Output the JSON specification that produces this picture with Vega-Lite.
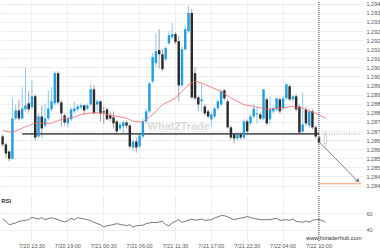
{
  "$schema": "https://vega.github.io/schema/vega-lite/v6.json",
  "padding": 0,
  "background": "white",
  "spacing": 2,
  "config": {
    "view": {"stroke": null},
    "font": "Liberation Sans",
    "axis": {"labelFont": "Liberation Sans", "labelFontSize": 5.5, "labelColor": "#555555", "gridColor": "#eeeeee", "gridWidth": 1, "ticks": false, "domain": false}
  },
  "datasets": {
    "candles": [
      {"t":"7/20 09:00","o":1.28670,"c":1.28626,"h":1.28681,"l":1.28615},
      {"t":"7/20 09:30","o":1.28626,"c":1.28576,"h":1.28637,"l":1.28554},
      {"t":"7/20 10:00","o":1.28587,"c":1.28548,"h":1.28593,"l":1.28532},
      {"t":"7/20 10:30","o":1.28548,"c":1.28769,"h":1.28880,"l":1.28543},
      {"t":"7/20 11:00","o":1.28769,"c":1.28813,"h":1.28846,"l":1.28758},
      {"t":"7/20 11:30","o":1.28813,"c":1.28769,"h":1.28869,"l":1.28758},
      {"t":"7/20 12:00","o":1.28769,"c":1.28824,"h":1.28940,"l":1.28764},
      {"t":"7/20 12:30","o":1.28819,"c":1.28841,"h":1.29045,"l":1.28808},
      {"t":"7/20 13:00","o":1.28852,"c":1.28819,"h":1.28918,"l":1.28802},
      {"t":"7/20 13:30","o":1.28830,"c":1.28891,"h":1.28979,"l":1.28819},
      {"t":"7/20 14:00","o":1.28891,"c":1.28664,"h":1.28902,"l":1.28648},
      {"t":"7/20 14:30","o":1.28670,"c":1.28780,"h":1.28797,"l":1.28659},
      {"t":"7/20 15:00","o":1.28780,"c":1.28714,"h":1.28841,"l":1.28664},
      {"t":"7/20 15:30","o":1.28730,"c":1.28769,"h":1.28852,"l":1.28720},
      {"t":"7/20 16:00","o":1.28769,"c":1.28824,"h":1.28924,"l":1.28758},
      {"t":"7/20 16:30","o":1.28819,"c":1.28863,"h":1.28940,"l":1.28808},
      {"t":"7/20 17:00","o":1.28852,"c":1.29018,"h":1.29029,"l":1.28841},
      {"t":"7/20 17:30","o":1.29018,"c":1.28857,"h":1.29029,"l":1.28846},
      {"t":"7/20 18:00","o":1.28857,"c":1.28797,"h":1.28869,"l":1.28725},
      {"t":"7/20 18:30","o":1.28786,"c":1.28747,"h":1.28797,"l":1.28730},
      {"t":"7/20 19:00","o":1.28742,"c":1.28769,"h":1.28780,"l":1.28720},
      {"t":"7/20 19:30","o":1.28764,"c":1.28819,"h":1.28830,"l":1.28753},
      {"t":"7/20 20:00","o":1.28808,"c":1.28824,"h":1.28863,"l":1.28797},
      {"t":"7/20 20:30","o":1.28819,"c":1.28835,"h":1.28846,"l":1.28808},
      {"t":"7/20 21:00","o":1.28830,"c":1.28841,"h":1.28852,"l":1.28819},
      {"t":"7/20 21:30","o":1.28841,"c":1.28813,"h":1.28846,"l":1.28791},
      {"t":"7/20 22:00","o":1.28824,"c":1.28841,"h":1.28852,"l":1.28813},
      {"t":"7/20 22:30","o":1.28846,"c":1.28929,"h":1.28957,"l":1.28841},
      {"t":"7/20 23:00","o":1.28929,"c":1.28797,"h":1.28951,"l":1.28791},
      {"t":"7/20 23:30","o":1.28846,"c":1.28863,"h":1.28874,"l":1.28808},
      {"t":"7/21 00:00","o":1.28863,"c":1.28797,"h":1.28869,"l":1.28753},
      {"t":"7/21 00:30","o":1.28808,"c":1.28802,"h":1.28835,"l":1.28742},
      {"t":"7/21 01:00","o":1.28819,"c":1.28764,"h":1.28830,"l":1.28758},
      {"t":"7/21 01:30","o":1.28786,"c":1.28769,"h":1.28808,"l":1.28753},
      {"t":"7/21 02:00","o":1.28775,"c":1.28742,"h":1.28808,"l":1.28714},
      {"t":"7/21 02:30","o":1.28753,"c":1.28698,"h":1.28758,"l":1.28681},
      {"t":"7/21 03:00","o":1.28714,"c":1.28736,"h":1.28747,"l":1.28703},
      {"t":"7/21 03:30","o":1.28725,"c":1.28747,"h":1.28758,"l":1.28686},
      {"t":"7/21 04:00","o":1.28747,"c":1.28730,"h":1.28758,"l":1.28714},
      {"t":"7/21 04:30","o":1.28730,"c":1.28615,"h":1.28742,"l":1.28604},
      {"t":"7/21 05:00","o":1.28609,"c":1.28642,"h":1.28653,"l":1.28587},
      {"t":"7/21 05:30","o":1.28642,"c":1.28609,"h":1.28664,"l":1.28582},
      {"t":"7/21 06:00","o":1.28615,"c":1.28675,"h":1.28681,"l":1.28604},
      {"t":"7/21 06:30","o":1.28670,"c":1.28753,"h":1.28769,"l":1.28659},
      {"t":"7/21 07:00","o":1.28753,"c":1.28808,"h":1.28824,"l":1.28742},
      {"t":"7/21 07:30","o":1.28808,"c":1.28962,"h":1.28973,"l":1.28797},
      {"t":"7/21 08:00","o":1.28973,"c":1.29106,"h":1.29128,"l":1.28962},
      {"t":"7/21 08:30","o":1.29073,"c":1.29139,"h":1.29238,"l":1.29051},
      {"t":"7/21 09:00","o":1.29145,"c":1.29122,"h":1.29260,"l":1.29045},
      {"t":"7/21 09:30","o":1.29122,"c":1.29040,"h":1.29150,"l":1.29029},
      {"t":"7/21 10:00","o":1.29095,"c":1.29156,"h":1.29167,"l":1.29084},
      {"t":"7/21 10:30","o":1.29183,"c":1.29227,"h":1.29249,"l":1.29172},
      {"t":"7/21 11:00","o":1.29216,"c":1.29233,"h":1.29294,"l":1.29205},
      {"t":"7/21 11:30","o":1.29233,"c":1.29189,"h":1.29244,"l":1.29178},
      {"t":"7/21 12:00","o":1.29194,"c":1.28951,"h":1.29222,"l":1.28863},
      {"t":"7/21 12:30","o":1.28951,"c":1.29150,"h":1.29167,"l":1.28940},
      {"t":"7/21 13:00","o":1.29150,"c":1.29260,"h":1.29277,"l":1.29139},
      {"t":"7/21 13:30","o":1.29249,"c":1.29349,"h":1.29387,"l":1.29238},
      {"t":"7/21 14:00","o":1.29349,"c":1.28885,"h":1.29371,"l":1.28874},
      {"t":"7/21 14:30","o":1.29018,"c":1.28880,"h":1.29051,"l":1.28869},
      {"t":"7/21 15:00","o":1.28885,"c":1.28846,"h":1.28896,"l":1.28808},
      {"t":"7/21 15:30","o":1.28863,"c":1.28874,"h":1.28962,"l":1.28808},
      {"t":"7/21 16:00","o":1.28835,"c":1.28797,"h":1.28846,"l":1.28786},
      {"t":"7/21 16:30","o":1.28808,"c":1.28780,"h":1.28819,"l":1.28769},
      {"t":"7/21 17:00","o":1.28764,"c":1.28791,"h":1.28802,"l":1.28725},
      {"t":"7/21 17:30","o":1.28780,"c":1.28824,"h":1.28835,"l":1.28769},
      {"t":"7/21 18:00","o":1.28824,"c":1.28863,"h":1.28874,"l":1.28813},
      {"t":"7/21 18:30","o":1.28846,"c":1.28918,"h":1.28929,"l":1.28835},
      {"t":"7/21 19:00","o":1.28924,"c":1.28880,"h":1.28929,"l":1.28869},
      {"t":"7/21 19:30","o":1.28863,"c":1.28720,"h":1.28874,"l":1.28714},
      {"t":"7/21 20:00","o":1.28720,"c":1.28664,"h":1.28730,"l":1.28653},
      {"t":"7/21 20:30","o":1.28681,"c":1.28659,"h":1.28692,"l":1.28631},
      {"t":"7/21 21:00","o":1.28659,"c":1.28681,"h":1.28692,"l":1.28648},
      {"t":"7/21 21:30","o":1.28681,"c":1.28664,"h":1.28692,"l":1.28653},
      {"t":"7/21 22:00","o":1.28664,"c":1.28753,"h":1.28764,"l":1.28653},
      {"t":"7/21 22:30","o":1.28753,"c":1.28698,"h":1.28764,"l":1.28686},
      {"t":"7/21 23:00","o":1.28742,"c":1.28780,"h":1.28791,"l":1.28730},
      {"t":"7/21 23:30","o":1.28780,"c":1.28824,"h":1.28852,"l":1.28769},
      {"t":"7/22 00:00","o":1.28791,"c":1.28797,"h":1.28835,"l":1.28742},
      {"t":"7/22 00:30","o":1.28791,"c":1.28769,"h":1.28802,"l":1.28758},
      {"t":"7/22 01:00","o":1.28769,"c":1.28929,"h":1.28929,"l":1.28758},
      {"t":"7/22 01:30","o":1.28874,"c":1.28742,"h":1.28885,"l":1.28730},
      {"t":"7/22 02:00","o":1.28764,"c":1.28819,"h":1.28891,"l":1.28736},
      {"t":"7/22 02:30","o":1.28808,"c":1.28824,"h":1.28841,"l":1.28797},
      {"t":"7/22 03:00","o":1.28819,"c":1.28880,"h":1.28880,"l":1.28808},
      {"t":"7/22 03:30","o":1.28874,"c":1.28808,"h":1.28885,"l":1.28797},
      {"t":"7/22 04:00","o":1.28824,"c":1.28880,"h":1.28891,"l":1.28813},
      {"t":"7/22 04:30","o":1.28880,"c":1.28957,"h":1.28962,"l":1.28869},
      {"t":"7/22 05:00","o":1.28946,"c":1.28874,"h":1.28957,"l":1.28863},
      {"t":"7/22 05:30","o":1.28874,"c":1.28891,"h":1.28902,"l":1.28863},
      {"t":"7/22 06:00","o":1.28891,"c":1.28819,"h":1.28902,"l":1.28808},
      {"t":"7/22 06:30","o":1.28835,"c":1.28692,"h":1.28846,"l":1.28681},
      {"t":"7/22 07:30","o":1.28698,"c":1.28736,"h":1.28913,"l":1.28686},
      {"t":"7/22 08:00","o":1.28819,"c":1.28742,"h":1.28835,"l":1.28730},
      {"t":"7/22 08:30","o":1.28730,"c":1.28808,"h":1.28824,"l":1.28720},
      {"t":"7/22 09:00","o":1.28808,"c":1.28720,"h":1.28819,"l":1.28709},
      {"t":"7/22 09:30","o":1.28720,"c":1.28670,"h":1.28730,"l":1.28659},
      {"t":"7/22 10:00","o":1.28664,"c":1.28637,"h":1.28675,"l":1.28626}
    ],
    "ma": [
      {"t":"7/20 09:00","ma":1.28703},{"t":"7/20 10:30","ma":1.28692},{"t":"7/20 12:00","ma":1.28716},
      {"t":"7/20 14:00","ma":1.28743},{"t":"7/20 16:30","ma":1.28743},{"t":"7/20 18:30","ma":1.28771},
      {"t":"7/20 19:30","ma":1.28771},{"t":"7/20 21:00","ma":1.28790},{"t":"7/20 23:00","ma":1.28802},
      {"t":"7/21 00:30","ma":1.28795},{"t":"7/21 02:00","ma":1.28784},{"t":"7/21 04:00","ma":1.28771},
      {"t":"7/21 05:00","ma":1.28753},{"t":"7/21 06:30","ma":1.28749},{"t":"7/21 08:00","ma":1.28790},
      {"t":"7/21 09:30","ma":1.28845},{"t":"7/21 11:30","ma":1.28881},{"t":"7/21 13:00","ma":1.28936},
      {"t":"7/21 13:30","ma":1.28955},{"t":"7/21 14:30","ma":1.28973},{"t":"7/21 15:30","ma":1.28964},
      {"t":"7/21 17:00","ma":1.28940},{"t":"7/21 18:30","ma":1.28918},{"t":"7/21 20:00","ma":1.28881},
      {"t":"7/21 22:00","ma":1.28845},{"t":"7/21 23:30","ma":1.28835},{"t":"7/22 01:30","ma":1.28820},
      {"t":"7/22 03:30","ma":1.28826},{"t":"7/22 05:30","ma":1.28835},{"t":"7/22 07:30","ma":1.28826},
      {"t":"7/22 08:30","ma":1.28808},{"t":"7/22 09:30","ma":1.28798},{"t":"7/22 11:00","ma":1.28771}
    ],
    "rsi": [
      {"t":"7/20 09:00","rsi":52.7},{"t":"7/20 09:30","rsi":49.9},{"t":"7/20 10:00","rsi":45.8},{"t":"7/20 11:00","rsi":47.9},
      {"t":"7/20 11:30","rsi":49.9},{"t":"7/20 12:30","rsi":51.1},{"t":"7/20 13:00","rsi":51.9},{"t":"7/20 13:30","rsi":54.8},
      {"t":"7/20 14:00","rsi":53.6},{"t":"7/20 14:30","rsi":52.7},{"t":"7/20 15:00","rsi":54.3},{"t":"7/20 15:30","rsi":51.9},
      {"t":"7/20 16:30","rsi":54.3},{"t":"7/20 17:00","rsi":53.1},{"t":"7/20 17:30","rsi":51.9},{"t":"7/20 18:30","rsi":49.1},
      {"t":"7/20 19:00","rsi":50.7},{"t":"7/20 19:30","rsi":53.6},{"t":"7/20 20:00","rsi":51.9},{"t":"7/20 20:30","rsi":54.3},
      {"t":"7/20 21:30","rsi":52.7},{"t":"7/20 22:00","rsi":51.9},{"t":"7/20 22:30","rsi":50.7},{"t":"7/20 23:00","rsi":48.7},
      {"t":"7/21 00:00","rsi":45.8},{"t":"7/21 00:30","rsi":43.0},{"t":"7/21 01:00","rsi":44.6},{"t":"7/21 01:30","rsi":45.1},
      {"t":"7/21 02:30","rsi":47.1},{"t":"7/21 03:00","rsi":46.3},{"t":"7/21 03:30","rsi":45.5},{"t":"7/21 04:00","rsi":44.6},
      {"t":"7/21 04:30","rsi":45.8},{"t":"7/21 05:00","rsi":43.0},{"t":"7/21 05:30","rsi":44.6},{"t":"7/21 06:30","rsi":45.1},
      {"t":"7/21 07:00","rsi":47.1},{"t":"7/21 08:00","rsi":48.7},{"t":"7/21 08:30","rsi":48.3},{"t":"7/21 09:30","rsi":49.9},
      {"t":"7/21 10:00","rsi":45.8},{"t":"7/21 10:30","rsi":44.6},{"t":"7/21 11:00","rsi":47.9},{"t":"7/21 11:30","rsi":49.9},
      {"t":"7/21 12:00","rsi":51.9},{"t":"7/21 12:30","rsi":48.7},{"t":"7/21 13:00","rsi":49.9},{"t":"7/21 14:00","rsi":52.7},
      {"t":"7/21 14:30","rsi":51.1},{"t":"7/21 15:30","rsi":52.7},{"t":"7/21 16:00","rsi":51.1},{"t":"7/21 17:00","rsi":51.9},
      {"t":"7/21 17:30","rsi":53.9},{"t":"7/21 18:30","rsi":56.8},{"t":"7/21 19:00","rsi":56.8},{"t":"7/21 19:30","rsi":55.2},
      {"t":"7/21 20:30","rsi":51.9},{"t":"7/21 21:30","rsi":53.9},{"t":"7/21 22:00","rsi":54.3},{"t":"7/21 22:30","rsi":56.0},
      {"t":"7/21 23:00","rsi":54.3},{"t":"7/22 00:00","rsi":52.7},{"t":"7/22 00:30","rsi":51.9},{"t":"7/22 01:30","rsi":51.9},
      {"t":"7/22 02:00","rsi":51.9},{"t":"7/22 03:00","rsi":53.6},{"t":"7/22 03:30","rsi":51.1},{"t":"7/22 04:30","rsi":51.9},
      {"t":"7/22 05:00","rsi":51.1},{"t":"7/22 05:30","rsi":52.7},{"t":"7/22 06:00","rsi":49.9},{"t":"7/22 07:30","rsi":48.7},
      {"t":"7/22 08:00","rsi":50.3},{"t":"7/22 08:30","rsi":48.7},{"t":"7/22 09:00","rsi":51.1},{"t":"7/22 09:30","rsi":51.9},
      {"t":"7/22 10:00","rsi":51.9},{"t":"7/22 10:30","rsi":51.1},{"t":"7/22 11:00","rsi":48.7}
    ]
  },
  "vconcat": [
    {
      "width": 362,
      "height": 190,
      "encoding": {
        "x": {
          "field": "t", "type": "ordinal",
          "scale": {"type": "band", "paddingInner": 0, "paddingOuter": 0, "domain": ["7/20 09:00","7/20 09:30","7/20 10:00","7/20 10:30","7/20 11:00","7/20 11:30","7/20 12:00","7/20 12:30","7/20 13:00","7/20 13:30","7/20 14:00","7/20 14:30","7/20 15:00","7/20 15:30","7/20 16:00","7/20 16:30","7/20 17:00","7/20 17:30","7/20 18:00","7/20 18:30","7/20 19:00","7/20 19:30","7/20 20:00","7/20 20:30","7/20 21:00","7/20 21:30","7/20 22:00","7/20 22:30","7/20 23:00","7/20 23:30","7/21 00:00","7/21 00:30","7/21 01:00","7/21 01:30","7/21 02:00","7/21 02:30","7/21 03:00","7/21 03:30","7/21 04:00","7/21 04:30","7/21 05:00","7/21 05:30","7/21 06:00","7/21 06:30","7/21 07:00","7/21 07:30","7/21 08:00","7/21 08:30","7/21 09:00","7/21 09:30","7/21 10:00","7/21 10:30","7/21 11:00","7/21 11:30","7/21 12:00","7/21 12:30","7/21 13:00","7/21 13:30","7/21 14:00","7/21 14:30","7/21 15:00","7/21 15:30","7/21 16:00","7/21 16:30","7/21 17:00","7/21 17:30","7/21 18:00","7/21 18:30","7/21 19:00","7/21 19:30","7/21 20:00","7/21 20:30","7/21 21:00","7/21 21:30","7/21 22:00","7/21 22:30","7/21 23:00","7/21 23:30","7/22 00:00","7/22 00:30","7/22 01:00","7/22 01:30","7/22 02:00","7/22 02:30","7/22 03:00","7/22 03:30","7/22 04:00","7/22 04:30","7/22 05:00","7/22 05:30","7/22 06:00","7/22 06:30","7/22 07:30","7/22 08:00","7/22 08:30","7/22 09:00","7/22 09:30","7/22 10:00","7/22 10:30","7/22 11:00","7/22 11:30","7/22 12:00","7/22 12:30","7/22 13:00","7/22 13:30","7/22 14:00","7/22 14:30","7/22 15:00","7/22 15:30","7/22 16:00","7/22 16:30"]},
          "axis": {"labels": false, "grid": true, "title": null, "values": ["7/20 13:30","7/20 19:00","7/21 00:30","7/21 06:00","7/21 11:30","7/21 17:00","7/21 22:30","7/22 04:00","7/22 10:00"]}
        },
        "y": {
          "type": "quantitative",
          "scale": {"domain": [1.2837, 1.29415], "zero": false, "nice": false},
          "axis": {"orient": "right", "grid": true, "title": null, "labelPadding": 3, "values": [1.284,1.2845,1.285,1.2855,1.286,1.2865,1.287,1.2875,1.288,1.2885,1.289,1.2895,1.29,1.2905,1.291,1.2915,1.292,1.2925,1.293,1.2935,1.294], "labelExpr": "substring(format(datum.value, '.4f'), 0, 5)"}
        }
      },
      "layer": [
        {
          "data": {"name": "candles"},
          "mark": {"type": "rule", "strokeWidth": 0.8},
          "encoding": {
            "y": {"field": "l"},
            "y2": {"field": "h"},
            "color": {"condition": {"test": "datum.c >= datum.o", "value": "#6cbdea"}, "value": "#8a8a8a"}
          }
        },
        {
          "data": {"values": [{"t": "7/20 12:00", "t2": "7/22 10:00", "p": 1.28684}]},
          "mark": {"type": "rule", "color": "#5a5a5a", "strokeWidth": 1.6},
          "encoding": {"x2": {"field": "t2"}, "y": {"field": "p"}}
        },
        {
          "data": {"values": [{"t": "7/22 10:00", "t2": "7/22 16:30", "p": 1.28684}]},
          "mark": {"type": "rule", "color": "#999999", "strokeWidth": 1, "strokeDash": [1, 1.5]},
          "encoding": {"x2": {"field": "t2"}, "y": {"field": "p"}}
        },
        {
          "data": {"name": "candles"},
          "mark": {"type": "bar", "width": {"band": 0.75}},
          "encoding": {
            "y": {"field": "o"},
            "y2": {"field": "c"},
            "color": {"condition": {"test": "datum.c >= datum.o", "value": "#1f9fe2"}, "value": "#2b2b2b"}
          }
        },
        {
          "data": {"name": "ma"},
          "mark": {"type": "line", "color": "#f06a6a", "strokeWidth": 0.9, "opacity": 0.9},
          "encoding": {"y": {"field": "ma"}}
        },
        {
          "data": {"values": [{"t": "7/21 12:00", "p": 1.2872, "label": "What2Trade"}]},
          "mark": {"type": "text", "font": "Liberation Sans", "fontSize": 11, "fontWeight": "bold", "color": "#d4d4d4", "opacity": 0.8, "baseline": "middle"},
          "encoding": {"y": {"field": "p"}, "text": {"field": "label"}}
        },
        {
          "data": {"values": [{"t": "7/22 11:00", "o": 1.28631, "c": 1.28681, "h": 1.28698, "l": 1.28615}]},
          "mark": {"type": "rule", "color": "#c8c8c8", "strokeWidth": 0.8},
          "encoding": {"y": {"field": "l"}, "y2": {"field": "h"}}
        },
        {
          "data": {"values": [{"t": "7/22 11:00", "o": 1.28631, "c": 1.28681, "h": 1.28698, "l": 1.28615}]},
          "mark": {"type": "bar", "width": {"band": 0.75}, "fill": "#ffffff", "stroke": "#bdbdbd", "strokeWidth": 0.7},
          "encoding": {"y": {"field": "o"}, "y2": {"field": "c"}}
        },
        {
          "data": {"values": [{"t": "7/22 10:00", "t2": "7/22 16:00", "p": 1.28642, "p2": 1.28421}]},
          "mark": {"type": "rule", "color": "#808080", "strokeWidth": 1},
          "encoding": {"x2": {"field": "t2"}, "y": {"field": "p"}, "y2": {"field": "p2"}}
        },
        {
          "data": {"values": [{"t": "7/22 16:00", "p": 1.28425}]},
          "mark": {"type": "point", "shape": "triangle-right", "angle": 45, "size": 22, "filled": true, "color": "#808080", "opacity": 1},
          "encoding": {"y": {"field": "p"}}
        },
        {
          "data": {"values": [{"t": "7/22 10:00", "t2": "7/22 16:30", "p": 1.2841}]},
          "mark": {"type": "rule", "color": "#f2a070", "strokeWidth": 1},
          "encoding": {"x2": {"field": "t2"}, "y": {"field": "p"}}
        },
        {
          "data": {"values": [{"t": "7/22 10:00", "p": 1.2837, "p2": 1.29415}]},
          "mark": {"type": "rule", "color": "#44545f", "strokeWidth": 1, "strokeDash": [1, 1]},
          "encoding": {"y": {"field": "p"}, "y2": {"field": "p2"}}
        }
      ]
    },
    {
      "width": 362,
      "height": 46,
      "encoding": {
        "x": {
          "field": "t", "type": "ordinal",
          "scale": {"type": "band", "paddingInner": 0, "paddingOuter": 0, "domain": ["7/20 09:00","7/20 09:30","7/20 10:00","7/20 10:30","7/20 11:00","7/20 11:30","7/20 12:00","7/20 12:30","7/20 13:00","7/20 13:30","7/20 14:00","7/20 14:30","7/20 15:00","7/20 15:30","7/20 16:00","7/20 16:30","7/20 17:00","7/20 17:30","7/20 18:00","7/20 18:30","7/20 19:00","7/20 19:30","7/20 20:00","7/20 20:30","7/20 21:00","7/20 21:30","7/20 22:00","7/20 22:30","7/20 23:00","7/20 23:30","7/21 00:00","7/21 00:30","7/21 01:00","7/21 01:30","7/21 02:00","7/21 02:30","7/21 03:00","7/21 03:30","7/21 04:00","7/21 04:30","7/21 05:00","7/21 05:30","7/21 06:00","7/21 06:30","7/21 07:00","7/21 07:30","7/21 08:00","7/21 08:30","7/21 09:00","7/21 09:30","7/21 10:00","7/21 10:30","7/21 11:00","7/21 11:30","7/21 12:00","7/21 12:30","7/21 13:00","7/21 13:30","7/21 14:00","7/21 14:30","7/21 15:00","7/21 15:30","7/21 16:00","7/21 16:30","7/21 17:00","7/21 17:30","7/21 18:00","7/21 18:30","7/21 19:00","7/21 19:30","7/21 20:00","7/21 20:30","7/21 21:00","7/21 21:30","7/21 22:00","7/21 22:30","7/21 23:00","7/21 23:30","7/22 00:00","7/22 00:30","7/22 01:00","7/22 01:30","7/22 02:00","7/22 02:30","7/22 03:00","7/22 03:30","7/22 04:00","7/22 04:30","7/22 05:00","7/22 05:30","7/22 06:00","7/22 06:30","7/22 07:30","7/22 08:00","7/22 08:30","7/22 09:00","7/22 09:30","7/22 10:00","7/22 10:30","7/22 11:00","7/22 11:30","7/22 12:00","7/22 12:30","7/22 13:00","7/22 13:30","7/22 14:00","7/22 14:30","7/22 15:00","7/22 15:30","7/22 16:00","7/22 16:30"]},
          "axis": {"labels": true, "grid": true, "title": null, "labelPadding": 2, "labelAngle": 0, "values": ["7/20 13:30","7/20 19:00","7/21 00:30","7/21 06:00","7/21 11:30","7/21 17:00","7/21 22:30","7/22 04:00","7/22 10:00"]}
        },
        "y": {
          "type": "quantitative",
          "scale": {"domain": [26.06, 81.82], "zero": false, "nice": false},
          "axis": {"orient": "right", "grid": true, "title": null, "labelPadding": 3, "values": [40, 60]}
        }
      },
      "layer": [
        {
          "data": {"name": "rsi"},
          "mark": {"type": "line", "color": "#555555", "strokeWidth": 0.8},
          "encoding": {"y": {"field": "rsi"}}
        },
        {
          "data": {"values": [{"t": "7/22 10:00", "v": 26.06, "v2": 81.82}]},
          "mark": {"type": "rule", "color": "#44545f", "strokeWidth": 1, "strokeDash": [1, 1]},
          "encoding": {"y": {"field": "v"}, "y2": {"field": "v2"}}
        },
        {
          "data": {"values": [{"t": "7/20 09:00", "v": 74.5, "label": "RSI"}]},
          "mark": {"type": "text", "align": "left", "dx": -1.5, "fontSize": 6, "fontWeight": "bold", "color": "#333333", "baseline": "middle"},
          "encoding": {"y": {"field": "v"}, "text": {"field": "label"}}
        },
        {
          "data": {"values": [{"t": "7/22 10:00", "v": 29.1, "label": "www.fxtraderhub.com"}]},
          "mark": {"type": "text", "align": "left", "dx": -13, "fontSize": 5.8, "color": "#333333", "baseline": "middle"},
          "encoding": {"y": {"field": "v"}, "text": {"field": "label"}}
        }
      ]
    }
  ]
}
